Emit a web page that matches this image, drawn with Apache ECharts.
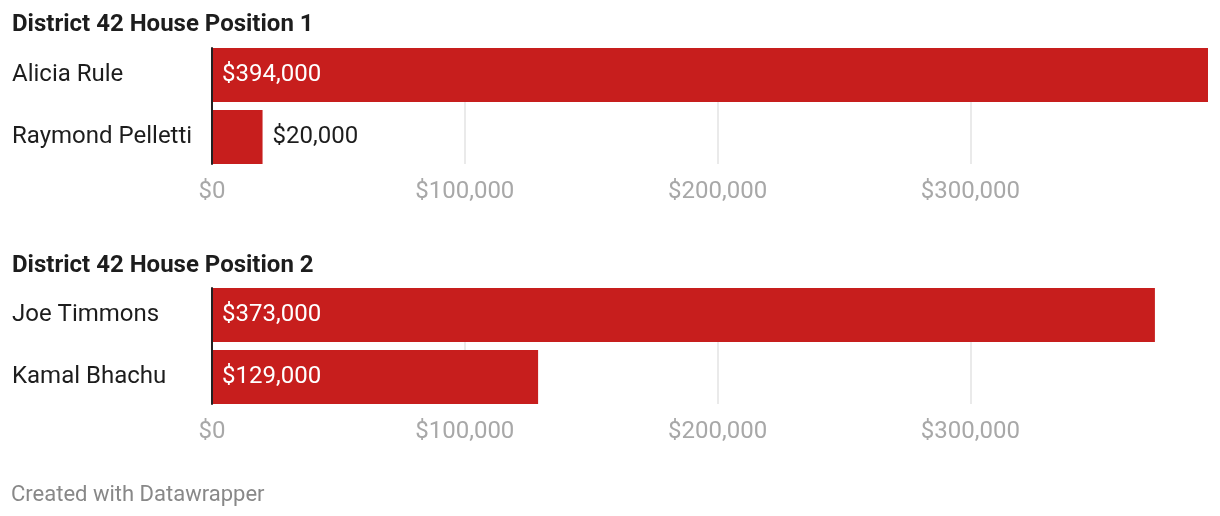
<!DOCTYPE html>
<html><head><meta charset="utf-8">
<script src="https://cdn.jsdelivr.net/npm/echarts@6/dist/echarts.min.js"></script>
<style>html,body{margin:0;padding:0;background:#fff}#c{width:1220px;height:516px}</style>
</head><body><div id="c"></div>
<script>
const panelTitles = ['District 42 House Position 1', 'District 42 House Position 2'];
const candidates1 = ['Alicia Rule', 'Raymond Pelletti'];
const amounts1 = [394000, 20000];
const candidates2 = ['Joe Timmons', 'Kamal Bhachu'];
const amounts2 = [373000, 129000];
const tickValues = [0, 100000, 200000, 300000];
const footer = 'Created with Datawrapper';

const FONT = 'Roboto';
const RED = '#c71e1d';
const xMax = Math.max(...amounts1, ...amounts2);
const fmt = v => '$' + Math.round(v).toLocaleString('en-US');

const chart = echarts.init(document.getElementById('c'), null, {renderer: 'canvas'});

function panel(idx, top, cats, vals) {
  const gBar = idx * 2, gAx = idx * 2 + 1;
  const grids = [
    {left: 212, width: 996, top: top - 4, height: 124},
    {left: 212, width: 996, top: top, height: 116}
  ];
  const xAxes = [
    {gridIndex: gBar, type: 'value', min: 0, max: xMax, show: false},
    {gridIndex: gAx, type: 'value', min: 0, max: xMax, interval: 100000,
     axisLine: {show: false}, axisTick: {show: false},
     splitLine: {show: true, showMinLine: false, showMaxLine: false, lineStyle: {color: '#e3e3e3', width: 1.5}},
     axisLabel: {show: true, showMaxLabel: false, margin: 16, color: '#a8a8a8', fontFamily: FONT, fontSize: 24,
       formatter: v => tickValues.includes(v) ? fmt(v) : ''}}
  ];
  const yAxes = [
    {gridIndex: gBar, type: 'category', data: cats, inverse: true,
     axisLine: {show: false}, axisTick: {show: false}, splitLine: {show: false},
     axisLabel: {align: 'left', margin: 200, color: '#1d1d1d', fontFamily: FONT, fontSize: 24}},
    {gridIndex: gAx, type: 'category', data: cats, inverse: true, z: 5,
     axisLine: {show: true, lineStyle: {color: '#222', width: 2}},
     axisTick: {show: false}, axisLabel: {show: false}, splitLine: {show: false}}
  ];
  const series = [{
    type: 'bar', xAxisIndex: gBar, yAxisIndex: gBar, barWidth: 54,
    itemStyle: {color: RED},
    data: vals.map(v => ({
      value: v,
      label: v > 60000
        ? {show: true, position: 'insideLeft', distance: 10, color: '#ffffff'}
        : {show: true, position: 'right', distance: 10, color: '#1d1d1d'}
    })),
    label: {fontFamily: FONT, fontSize: 24, formatter: p => fmt(p.value)},
    silent: true, animation: false
  }];
  return {grids, xAxes, yAxes, series};
}

const p1 = panel(0, 48, candidates1, amounts1);
const p2 = panel(1, 288, candidates2, amounts2);

chart.setOption({
  animation: false,
  backgroundColor: '#ffffff',
  title: [
    {text: panelTitles[0], left: 12, top: 13, textStyle: {fontFamily: FONT, fontWeight: 'bold', fontSize: 24, color: '#1d1d1d'}, padding: 0},
    {text: panelTitles[1], left: 12, top: 254, textStyle: {fontFamily: FONT, fontWeight: 'bold', fontSize: 24, color: '#1d1d1d'}, padding: 0},
    {text: footer, left: 11, top: 484, textStyle: {fontFamily: FONT, fontWeight: 'normal', fontSize: 22, color: '#888888'}, padding: 0}
  ],
  grid: [...p1.grids, ...p2.grids],
  xAxis: [...p1.xAxes, ...p2.xAxes],
  yAxis: [...p1.yAxes, ...p2.yAxes],
  series: [...p1.series, ...p2.series]
});
</script></body></html>
